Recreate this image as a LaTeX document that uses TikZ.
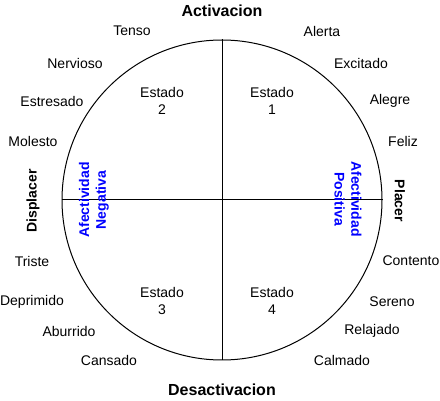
\documentclass[tikz,border=0pt]{standalone}
\usepackage{fontspec}
\setmainfont{Liberation Sans}
\begin{document}
\begin{tikzpicture}[x=1pt,y=-1pt,
  lbl/.style={font=\fontsize{14}{16.8}\selectfont, inner sep=0pt, align=center},
  axis/.style={font=\fontsize{16}{19}\selectfont\bfseries, inner sep=0pt},
  side/.style={font=\fontsize{14}{16.8}\selectfont\bfseries, inner sep=0pt},
  aff/.style={font=\fontsize{14}{16.8}\selectfont\bfseries, text=blue, inner sep=0pt, align=center},
  ring/.style={circle, draw=black, line width=1pt, minimum size=320pt, inner sep=0pt},
  divider/.style={draw=black, line width=1pt}]
\useasboundingbox (0,0) rectangle (440,401);
\node[ring] (circ) at (222,200) {};
\draw[divider] (circ.north) -- (circ.south);
\draw[divider] (circ.west) -- (circ.east);
\node[axis] (act) at (222,11) {Activacion};
\node[axis] (des) at (222,390) {Desactivacion};
\node[side, rotate=90] (dis) at (33,201) {Displacer};
\node[side, rotate=-90] (pla) at (400,201) {Placer};
\node[aff, rotate=90] (neg) at (94,200) {Afectividad\\Negativa};
\node[aff, rotate=-90] (pos) at (348,199) {Afectividad\\Positiva};
\node[lbl] (e2) at (162,101) {Estado\\2};
\node[lbl] (e1) at (272,101) {Estado\\1};
\node[lbl] (e3) at (162,301) {Estado\\3};
\node[lbl] (e4) at (272,301) {Estado\\4};
\node[lbl] (tenso) at (132,31) {Tenso};
\node[lbl] (alerta) at (322,31) {Alerta};
\node[lbl] (nervioso) at (75,63) {Nervioso};
\node[lbl] (excitado) at (361,63) {Excitado};
\node[lbl] (estresado) at (52,101) {Estresado};
\node[lbl] (alegre) at (390,101) {Alegre};
\node[lbl] (molesto) at (33,141) {Molesto};
\node[lbl] (feliz) at (403,141) {Feliz};
\node[lbl] (triste) at (32,261) {Triste};
\node[lbl] (contento) at (411,261) {Contento};
\node[lbl] (deprimido) at (32,302) {Deprimido};
\node[lbl] (sereno) at (392,302) {Sereno};
\node[lbl] (aburrido) at (69,331) {Aburrido};
\node[lbl] (relajado) at (372,331) {Relajado};
\node[lbl] (cansado) at (109,360) {Cansado};
\node[lbl] (calmado) at (342,360) {Calmado};
\end{tikzpicture}
\end{document}
